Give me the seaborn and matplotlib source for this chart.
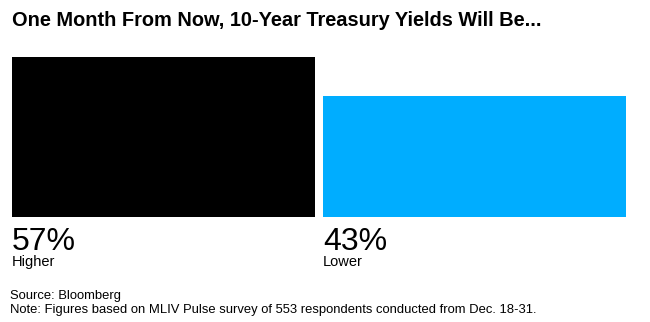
import matplotlib
matplotlib.use("Agg")
import matplotlib.pyplot as plt
import matplotlib.transforms as mtransforms
import seaborn as sns
import pandas as pd

categories = ["Higher", "Lower"]
shares = [57, 43]
bar_colors = ["#000000", "#00adff"]

title = "One Month From Now, 10-Year Treasury Yields Will Be..."
source = "Source: Bloomberg"
note = "Note: Figures based on MLIV Pulse survey of 553 respondents conducted from Dec. 18-31."

sns.set_theme(style="white")
plt.rcParams["font.family"] = ["Liberation Sans", "DejaVu Sans"]
narrow = ["Liberation Sans Narrow", "Liberation Sans"]

df = pd.DataFrame({"answer": categories, "share": shares})

W, H = 650, 322
fig = plt.figure(figsize=(W / 100, H / 100), dpi=100)
ax = fig.add_axes([8 / W, (H - 216.7) / H, 622 / W, (216.7 - 57) / H])

bar_w = 0.974
sns.barplot(data=df, x="answer", y="share", hue="answer", palette=bar_colors,
            width=bar_w, legend=False, ax=ax, saturation=1, linewidth=0)
ax.set_xlim(-0.5, 1.5)
ax.set_ylim(0, max(shares))
ax.axis("off")

trans = mtransforms.blended_transform_factory(ax.transData, fig.transFigure)
for i, (cat, val) in enumerate(zip(categories, shares)):
    x0 = i - bar_w / 2
    ax.text(x0, 1 - 249.5 / H, f"{val}%", transform=trans, fontsize=23,
            color="#000000", ha="left", va="baseline")
    ax.text(x0, 1 - 266 / H, cat, transform=trans, fontsize=10.5,
            family=narrow, color="#000000", ha="left", va="baseline")

fig.text(12 / W, 1 - 26 / H, title, fontsize=14.4, fontweight="bold",
         color="#000000", ha="left", va="baseline")
fig.text(10 / W, 1 - 299 / H, source, fontsize=9.35, family=narrow,
         color="#000000", ha="left", va="baseline")
fig.text(10 / W, 1 - 313.5 / H, note, fontsize=9.35, family=narrow,
         color="#000000", ha="left", va="baseline")

fig.savefig("out.png", dpi=100, facecolor="white")
